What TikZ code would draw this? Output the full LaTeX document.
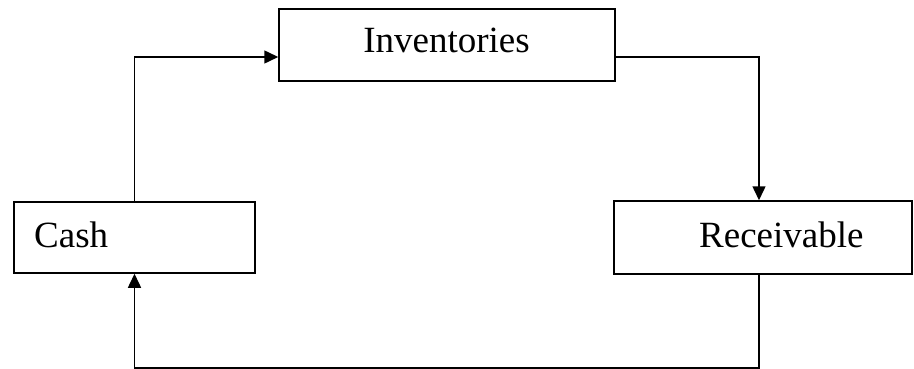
\documentclass[tikz,border=0pt]{standalone}
\usepackage{fontspec}
\setmainfont{Liberation Serif}
\usetikzlibrary{arrows.meta,calc}
\begin{document}
\begin{tikzpicture}[x=1pt,y=-1pt,
  box/.style={draw,line width=1.5pt,inner sep=0pt,rectangle},
  lbl/.style={inner sep=0pt,font=\fontsize{37}{44}\selectfont},
  arr/.style={line width=1.5pt,-{Triangle[length=14pt,width=13pt]}}]
\useasboundingbox (0,0) rectangle (914,369);
\node[box,minimum width=336pt,minimum height=72pt] (inv) at (447,45) {};
\node[box,minimum width=241pt,minimum height=71pt] (cash) at (134.5,237.5) {};
\node[box,minimum width=298pt,minimum height=73pt] (rec) at (763,237.5) {};
\node[lbl,anchor=base] (invt) at (446.5,53) {Inventories};
\node[lbl,anchor=base west] (casht) at (34,247) {Cash};
\node[lbl,anchor=base west] (rect) at (699,247) {Receivable};
\coordinate (br) at (759,368);
\coordinate (bl) at (134.5,368);
\draw[arr] (cash.north) |- ([yshift=-12pt]inv.west);
\draw[arr] ([yshift=-12pt]inv.east) -| ([xshift=-4pt]rec.north);
\draw[arr] ([xshift=-4pt]rec.south) -- (br) -- (bl) -- (cash.south);
\end{tikzpicture}
\end{document}
